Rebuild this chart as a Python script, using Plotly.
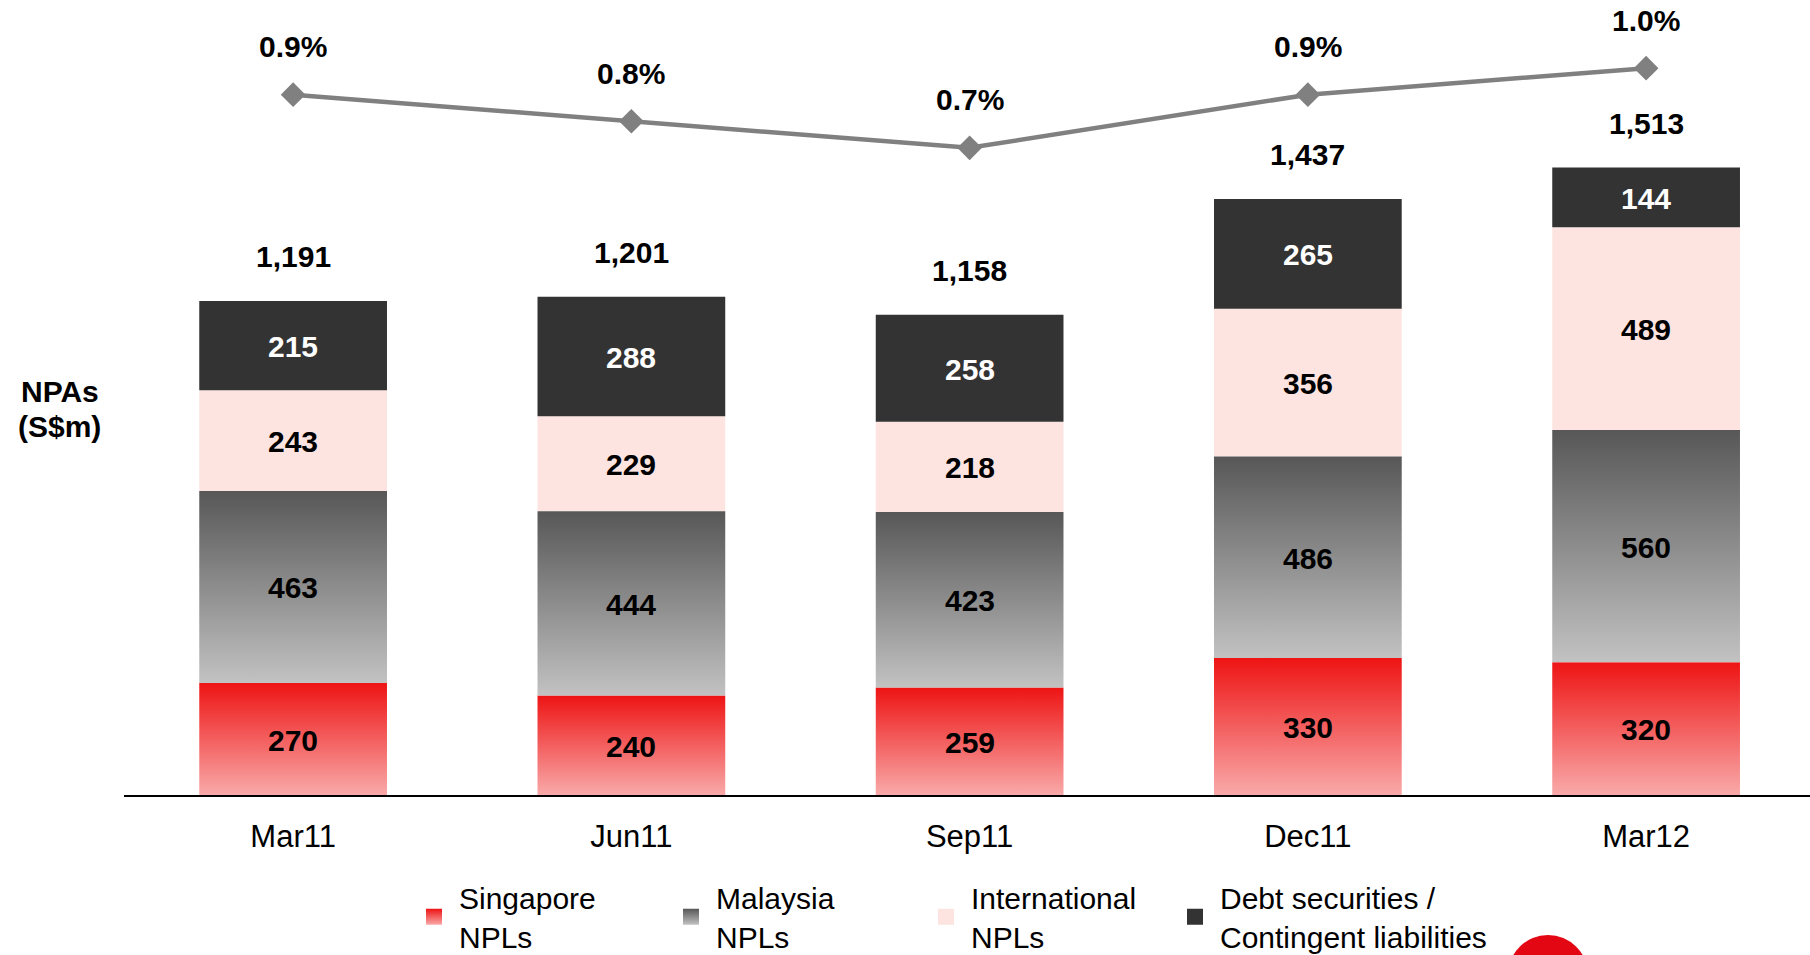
import plotly.graph_objects as go

# NPAs by category, S$m
periods = ["Mar11", "Jun11", "Sep11", "Dec11", "Mar12"]
singapore_npl = [270, 240, 259, 330, 320]
malaysia_npl = [463, 444, 423, 486, 560]
international_npl = [243, 229, 218, 356, 489]
debt_contingent = [215, 288, 258, 265, 144]
# NPA ratio, %
npa_ratio = [0.9, 0.8, 0.7, 0.9, 1.0]

series_names = ["Singapore<br>NPLs", "Malaysia<br>NPLs", "International<br>NPLs",
                "Debt securities /<br>Contingent liabilities"]

BAR_W = 0.555
FONT = "Liberation Sans, Arial, sans-serif"
RED_SCALE = [[0, "#f9a9a9"], [1, "#ee1414"]]
GREY_SCALE = [[0, "#c2c2c2"], [1, "#575757"]]
PINK = "#fde4e1"
DARK = "#333333"

x_pos = list(range(len(periods)))
base_my = singapore_npl
base_intl = [a + b for a, b in zip(singapore_npl, malaysia_npl)]
base_debt = [a + b for a, b in zip(base_intl, international_npl)]
totals = [a + b for a, b in zip(base_debt, debt_contingent)]

fig = go.Figure()


def add_gradient_series(base, values, colorscale):
    # one filled rectangle per bar so each gets its own vertical gradient
    for i, (b, v) in enumerate(zip(base, values)):
        x0, x1 = x_pos[i] - BAR_W / 2, x_pos[i] + BAR_W / 2
        fig.add_trace(go.Scatter(
            x=[x0, x1, x1, x0, x0],
            y=[b, b, b + v, b + v, b],
            mode="lines",
            fill="toself",
            fillgradient=dict(type="vertical", colorscale=colorscale),
            line=dict(width=0, color=colorscale[1][1]),
            showlegend=False,
            hoverinfo="skip",
        ))


add_gradient_series([0] * len(periods), singapore_npl, RED_SCALE)
add_gradient_series(base_my, malaysia_npl, GREY_SCALE)

fig.add_trace(go.Bar(
    x=x_pos, y=international_npl, base=base_intl, width=BAR_W,
    marker=dict(color=PINK, line=dict(width=0)), showlegend=False,
))
fig.add_trace(go.Bar(
    x=x_pos, y=debt_contingent, base=base_debt, width=BAR_W,
    marker=dict(color=DARK, line=dict(width=0)), showlegend=False,
))

# NPA ratio line
fig.add_trace(go.Scatter(
    x=x_pos, y=npa_ratio, yaxis="y2", mode="lines+markers",
    line=dict(color="#808080", width=4.5),
    marker=dict(symbol="diamond", size=19, color="#808080"),
    showlegend=False, name="NPA ratio",
))

# legend entries, one legend per item so each sits where the original does
legend_marks = [
    dict(color=RED_SCALE[1][1], gradient=dict(type="vertical", color=RED_SCALE[0][1])),
    dict(color=GREY_SCALE[1][1], gradient=dict(type="vertical", color=GREY_SCALE[0][1])),
    dict(color=PINK),
    dict(color=DARK),
]
legend_ids = ["legend", "legend2", "legend3", "legend4"]
legend_x = [409, 666, 921, 1170]
for name, mk, lid in zip(series_names, legend_marks, legend_ids):
    fig.add_trace(go.Scatter(
        x=[None], y=[None], mode="markers", name=name, legend=lid,
        marker=dict(symbol="square", size=16, line=dict(width=0), **mk),
    ))

bold = dict(family=FONT, size=30, color="black", weight="bold")
annotations = []

# segment value labels
segments = [
    (singapore_npl, [0] * len(periods), "black"),
    (malaysia_npl, base_my, "black"),
    (international_npl, base_intl, "black"),
    (debt_contingent, base_debt, "white"),
]
for vals, base, col in segments:
    for x, b, v in zip(x_pos, base, vals):
        annotations.append(dict(
            x=x, y=b + v / 2, xref="x", yref="y", text=str(v), showarrow=False,
            yshift=-1, font=dict(bold, color=col),
        ))

for x, t in zip(x_pos, totals):
    annotations.append(dict(
        x=x, y=t, xref="x", yref="y", text=f"{t:,}", showarrow=False,
        yshift=44, font=bold,
    ))
for x, r in zip(x_pos, npa_ratio):
    annotations.append(dict(
        x=x, y=r, xref="x", yref="y2", text=f"{r:.1f}%", showarrow=False,
        yshift=48, font=bold,
    ))
for txt, yy in [("NPAs", 0.508), ("(S$m)", 0.464)]:
    annotations.append(dict(
        x=-0.038, y=yy, xref="paper", yref="paper", xanchor="center", yanchor="middle",
        text=txt, showarrow=False, font=bold,
    ))

PLOT_L, PLOT_W, PLOT_H = 124, 1686, 795
legends = {}
for lid, lx in zip(legend_ids, legend_x):
    legends[lid] = dict(
        orientation="h", x=(lx - PLOT_L) / PLOT_W, xanchor="left",
        y=-0.096, yanchor="top", itemwidth=40,
        font=dict(family=FONT, size=30, color="black"),
        bgcolor="rgba(0,0,0,0)",
    )

fig.update_layout(
    width=1810, height=955,
    margin=dict(l=PLOT_L, r=0, t=0, b=160, autoexpand=False),
    paper_bgcolor="white", plot_bgcolor="white",
    barmode="overlay",
    font=dict(family=FONT, size=30, color="black"),
    xaxis=dict(
        range=[-0.5, 4.4845], tickvals=x_pos, ticktext=periods,
        showline=True, linecolor="black", linewidth=2, showgrid=False, zeroline=False,
        ticks="outside", ticklen=13, tickcolor="rgba(0,0,0,0)",
        tickfont=dict(family=FONT, size=31, color="black"),
    ),
    yaxis=dict(range=[0, 1916.6], visible=False, showgrid=False),
    yaxis2=dict(range=[-1.7377, 1.2567], overlaying="y", visible=False, showgrid=False),
    annotations=annotations,
    shapes=[dict(type="circle", xref="paper", yref="paper", layer="above",
                 x0=(1508 - PLOT_L) / PLOT_W, x1=(1588 - PLOT_L) / PLOT_W,
                 y0=(PLOT_H - 1015) / PLOT_H, y1=(PLOT_H - 935) / PLOT_H,
                 fillcolor="#e30613", line=dict(width=0))],
    **legends,
)

fig.write_html("out.html", config={"displayModeBar": False},
               post_script="document.body.style.margin='0';")
